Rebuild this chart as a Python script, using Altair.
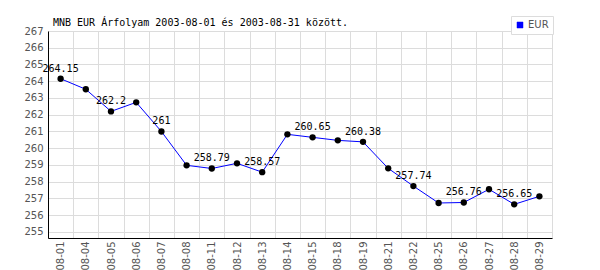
import altair as alt
import pandas as pd

dates = ["08-01", "08-04", "08-05", "08-06", "08-07", "08-08", "08-11", "08-12",
         "08-13", "08-14", "08-15", "08-18", "08-19", "08-21", "08-22", "08-25",
         "08-26", "08-27", "08-28", "08-29"]
values = [264.15, 263.52, 262.2, 262.74, 261.0, 258.98, 258.79, 259.1,
          258.57, 260.83, 260.65, 260.47, 260.38, 258.8, 257.74, 256.73,
          256.76, 257.55, 256.65, 257.13]
labels = ["264.15", "", "262.2", "", "261", "", "258.79", "",
          "258.57", "", "260.65", "", "260.38", "", "257.74", "",
          "256.76", "", "256.65", ""]
series = ["EUR"] * len(dates)
y_ticks = [255, 256, 257, 258, 259, 260, 261, 262, 263, 264, 265, 266, 267]

df = pd.DataFrame({"date": dates, "value": values, "label": labels, "series": series})

GRID = "#dcdcdc"
LABEL = "#555555"

x = alt.X(
    "date:N", sort=dates, bandPosition=0.5,
    scale=alt.Scale(type="band", paddingInner=0, paddingOuter=0),
    axis=alt.Axis(title=None, labelAngle=-90, tickBand="extent", ticks=False,
                  grid=True, gridColor=GRID, domainColor="black",
                  labelColor=LABEL, labelFont="DejaVu Sans", labelFontSize=10,
                  labelPadding=3),
)
y = alt.Y(
    "value:Q",
    scale=alt.Scale(domain=[254.64, 267], nice=False, zero=False),
    axis=alt.Axis(title=None, values=y_ticks, ticks=False, grid=True,
                  gridColor=GRID, domainColor="black", labelColor=LABEL,
                  labelFont="DejaVu Sans", labelFontSize=10, labelPadding=5),
)

base = alt.Chart(df)

line = base.mark_line(strokeWidth=1).encode(
    x=x, y=y,
    color=alt.Color(
        "series:N",
        scale=alt.Scale(range=["#0000ff"]),
        legend=alt.Legend(
            title=None, orient="none", legendX=463, legendY=-15,
            symbolType="square", symbolSize=36, padding=4,
            strokeColor=GRID, fillColor="white",
            symbolFillColor="#0000ff", symbolStrokeColor="#000000",
            symbolStrokeWidth=0.5,
            labelColor=LABEL, labelFont="DejaVu Sans", labelFontSize=10,
            labelOffset=3,
        ),
    ),
)

points = base.mark_point(filled=True, color="black", size=40, opacity=1).encode(x=x, y=y)

text = base.transform_filter(alt.datum.label != "").mark_text(
    dy=-10, font="DejaVu Sans Mono", fontSize=10, color="black"
).encode(x=x, y=y, text="label:N")

chart = alt.layer(line, points, text).properties(
    width=504, height=207,
    autosize="none",
    padding={"left": 48, "top": 31, "right": 48, "bottom": 32},
    title=alt.TitleParams(
        "MNB EUR Árfolyam 2003-08-01 és 2003-08-31 között.",
        anchor="start", frame="group", dx=5, dy=20, offset=8,
        font="DejaVu Sans Mono", fontSize=10, fontWeight="normal",
        color="black",
    ),
).configure_view(stroke=None)

chart.save("out.html", embed_options={"renderer": "svg", "actions": False})
